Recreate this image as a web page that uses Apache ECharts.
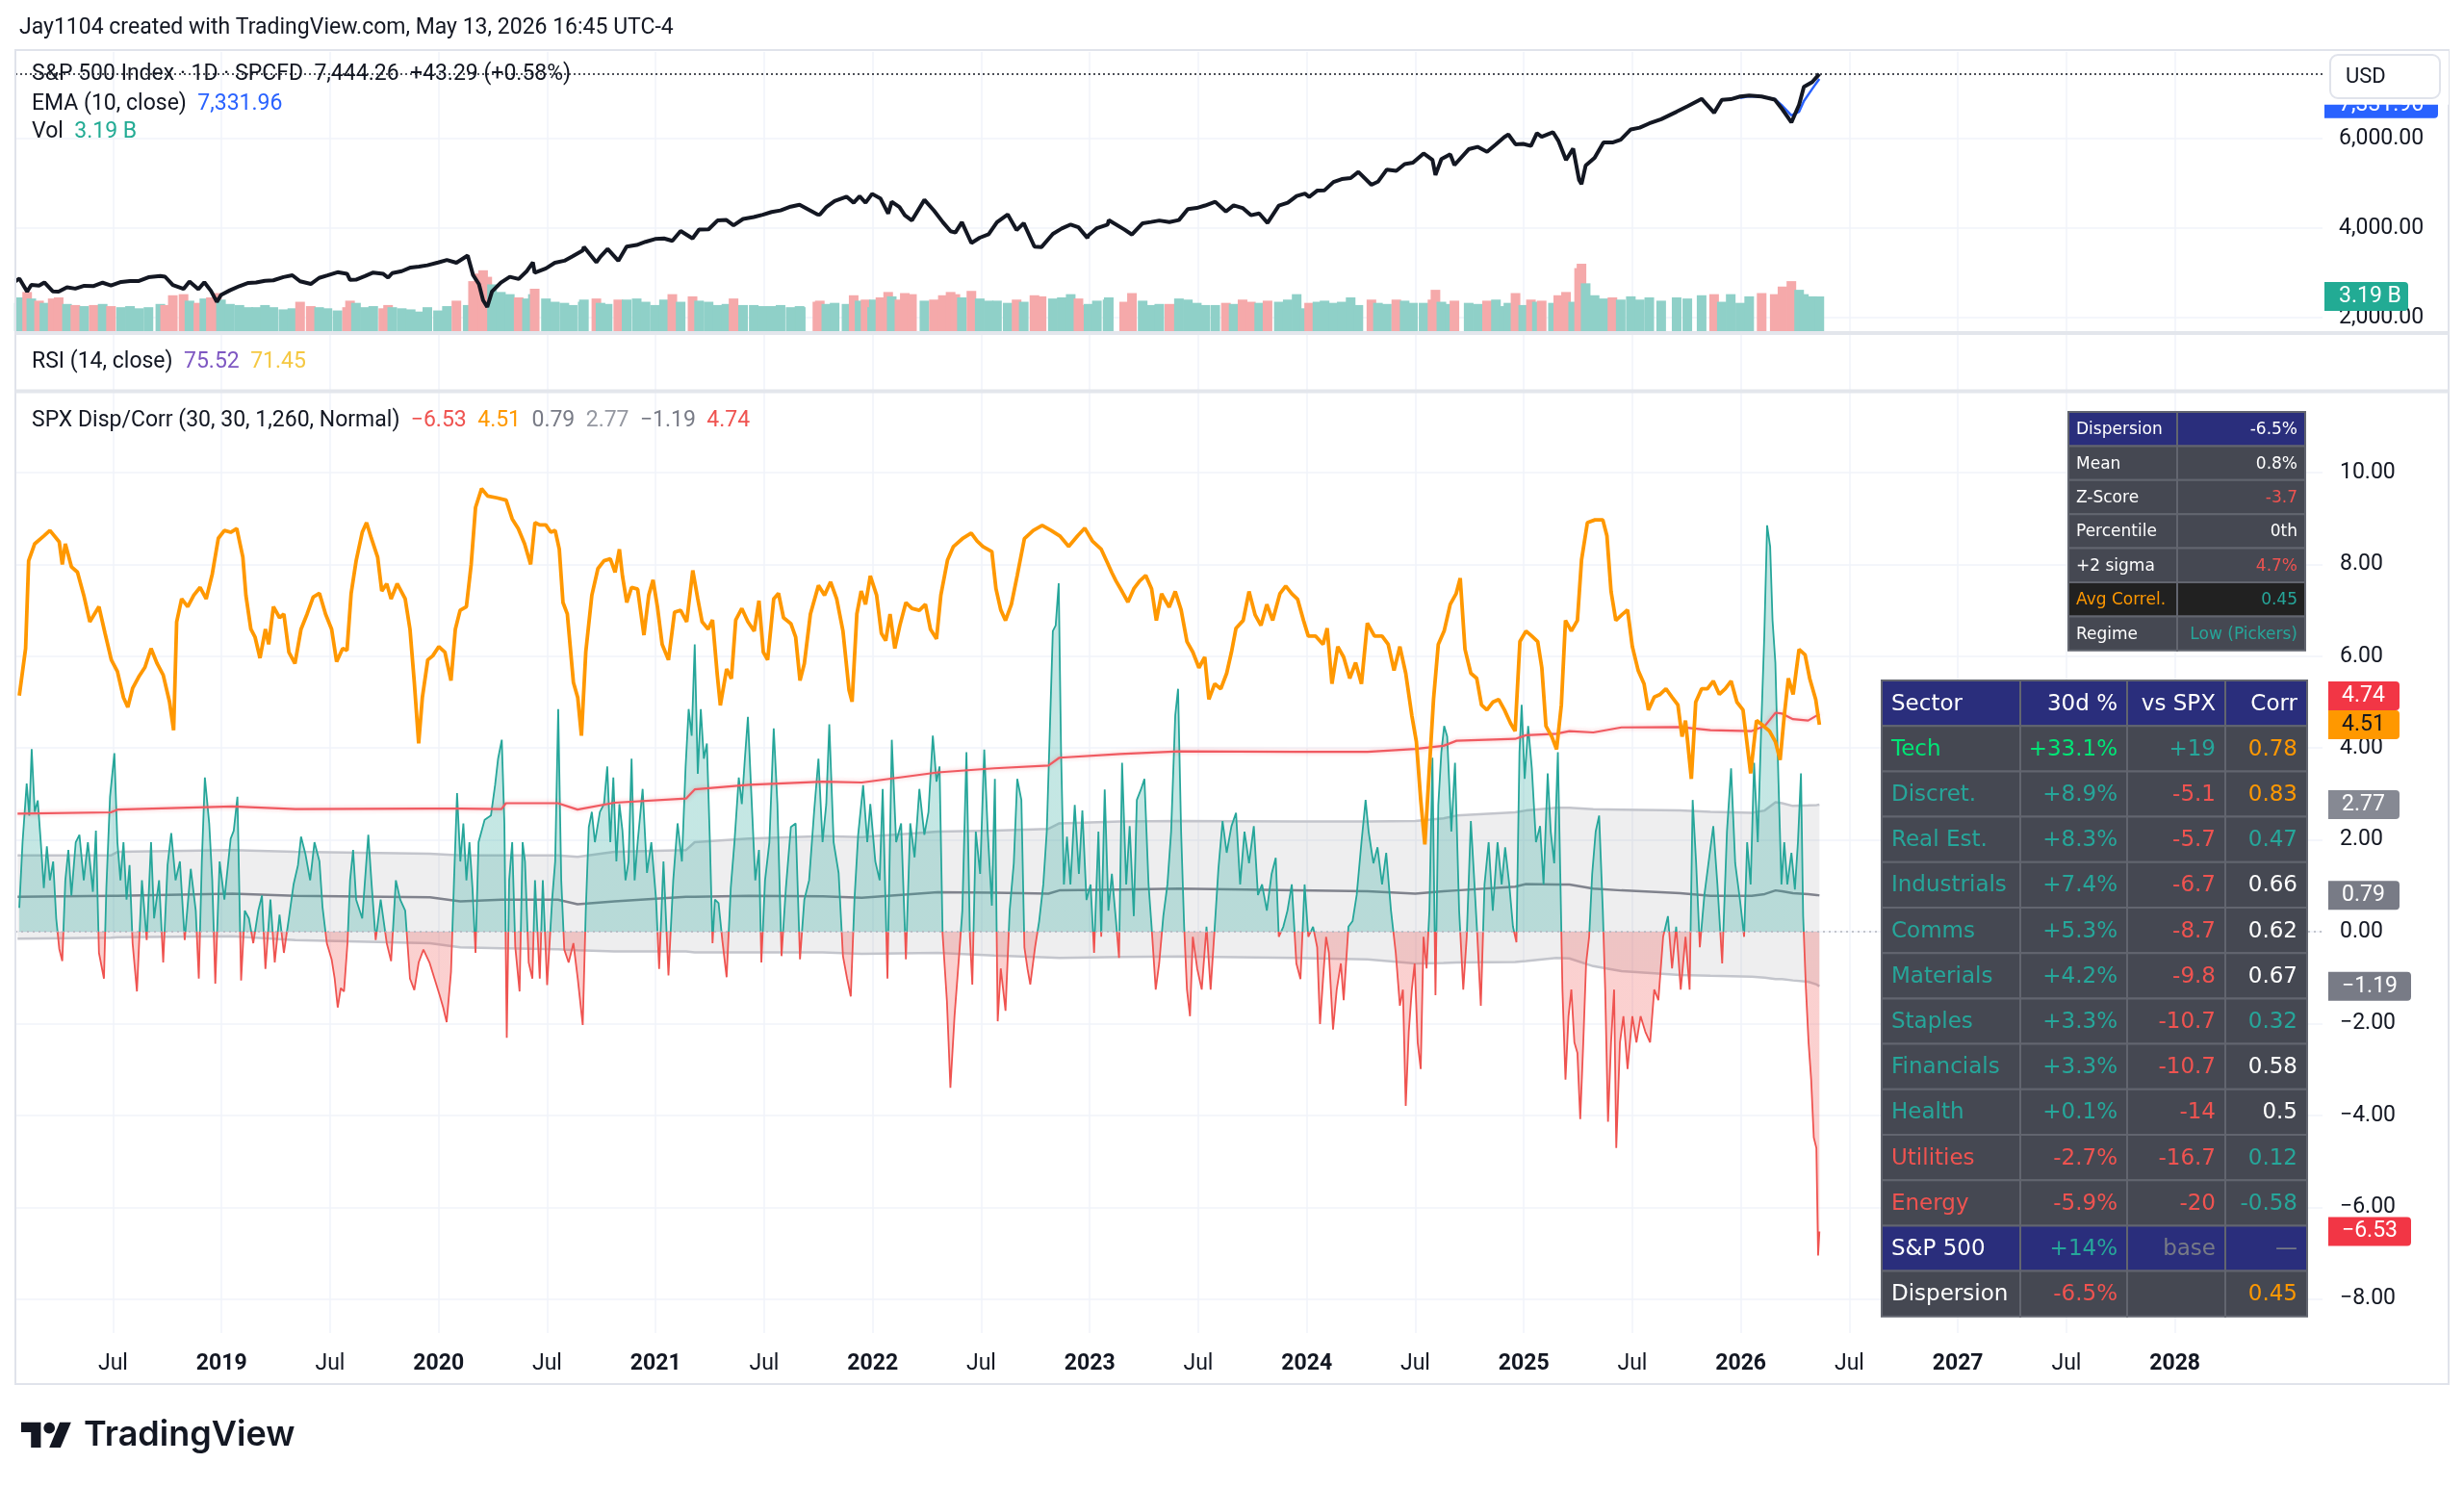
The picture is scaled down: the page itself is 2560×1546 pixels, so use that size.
<!DOCTYPE html>
<html>
<head>
<meta charset="utf-8">
<title>SPX Disp/Corr</title>
<script src="https://cdn.jsdelivr.net/npm/echarts@6.0.0/dist/echarts.min.js"></script>
<style>
html,body{margin:0;padding:0;background:#ffffff;}
#chart{width:2560px;height:1546px;}
</style>
</head>
<body>
<div id="chart"></div>
<script>
// ================= DATA =================
const headerText = 'Jay1104 created with TradingView.com, May 13, 2026 16:45 UTC-4';

const priceDates = [
'2018-01-19','2018-01-26','2018-02-08','2018-02-15','2018-02-28','2018-03-09','2018-03-23','2018-04-02','2018-04-16','2018-04-30','2018-05-15','2018-05-31','2018-06-15','2018-06-29','2018-07-16','2018-07-31','2018-08-15','2018-08-31','2018-09-20','2018-09-28','2018-10-11','2018-10-29','2018-11-08','2018-11-23','2018-12-03','2018-12-14','2018-12-24','2018-12-31',
'2019-01-15','2019-01-31','2019-02-15','2019-02-28','2019-03-15','2019-03-29','2019-04-15','2019-04-30','2019-05-13','2019-05-31','2019-06-14','2019-06-28','2019-07-15','2019-07-31','2019-08-05','2019-08-15','2019-08-30','2019-09-13','2019-09-30','2019-10-08','2019-10-15','2019-10-31','2019-11-15','2019-11-29','2019-12-13','2019-12-31',
'2020-01-15','2020-01-31','2020-02-19','2020-02-28','2020-03-09','2020-03-16','2020-03-23','2020-03-31','2020-04-15','2020-04-30','2020-05-15','2020-05-29','2020-06-08','2020-06-11','2020-06-30','2020-07-15','2020-07-31','2020-08-14','2020-08-31','2020-09-02','2020-09-23','2020-09-30','2020-10-12','2020-10-30','2020-11-13','2020-11-30','2020-12-15','2020-12-31',
'2021-01-15','2021-01-29','2021-02-12','2021-03-04','2021-03-15','2021-03-31','2021-04-15','2021-04-30','2021-05-12','2021-05-28','2021-06-15','2021-06-30','2021-07-15','2021-07-30','2021-08-16','2021-08-31','2021-09-02','2021-09-30','2021-10-04','2021-10-15','2021-10-29','2021-11-18','2021-11-30','2021-12-10','2021-12-20','2021-12-31',
'2022-01-03','2022-01-14','2022-01-27','2022-02-02','2022-02-15','2022-02-24','2022-03-08','2022-03-29','2022-04-14','2022-04-29','2022-05-12','2022-05-20','2022-05-31','2022-06-16','2022-06-30','2022-07-15','2022-07-29','2022-08-16','2022-08-31','2022-09-12','2022-09-30','2022-10-12','2022-10-31','2022-11-15','2022-11-30','2022-12-13','2022-12-28','2022-12-30',
'2023-01-13','2023-01-31','2023-02-02','2023-02-28','2023-03-13','2023-03-31','2023-04-14','2023-04-28','2023-05-15','2023-05-31','2023-06-15','2023-06-30','2023-07-14','2023-07-31','2023-08-18','2023-08-31','2023-09-15','2023-09-29','2023-10-13','2023-10-27','2023-11-15','2023-11-30','2023-12-15','2023-12-29',
'2024-01-05','2024-01-19','2024-01-31','2024-02-15','2024-02-29','2024-03-15','2024-03-28','2024-04-19','2024-04-30','2024-05-15','2024-05-31','2024-06-14','2024-06-28','2024-07-16','2024-07-31','2024-08-05','2024-08-15','2024-08-30','2024-09-06','2024-09-30','2024-10-15','2024-10-31','2024-11-15','2024-11-29','2024-12-06','2024-12-18','2024-12-31',
'2025-01-13','2025-01-23','2025-01-31','2025-02-19','2025-02-28','2025-03-13','2025-03-25','2025-04-04','2025-04-08','2025-04-15','2025-04-30','2025-05-15','2025-05-30','2025-06-13','2025-06-30','2025-07-15','2025-07-31','2025-08-20','2025-09-15','2025-10-03','2025-10-27','2025-11-17','2025-11-30','2025-12-15','2025-12-31',
'2026-01-15','2026-02-05','2026-02-27','2026-03-12','2026-03-27','2026-04-09','2026-04-17','2026-05-01','2026-05-13'
];
const priceVals = [
2810,2872,2581,2731,2714,2786,2588,2582,2678,2648,2711,2705,2780,2718,2798,2816,2818,2902,2930,2914,2728,2641,2806,2633,2790,2599,2351,2507,
2610,2704,2775,2784,2822,2834,2905,2946,2812,2752,2887,2942,3014,2980,2844,2847,2926,3007,2977,2893,2995,3038,3120,3141,3169,3231,
3289,3226,3386,2954,2747,2386,2237,2585,2783,2912,2864,3044,3232,3002,3100,3227,3271,3373,3500,3580,3237,3363,3534,3270,3585,3622,3694,3756,
3768,3714,3934,3768,3968,3973,4170,4181,4063,4204,4246,4297,4360,4395,4479,4523,4537,4308,4300,4471,4605,4704,4567,4712,4568,4766,
4796,4662,4326,4589,4471,4288,4170,4631,4392,4132,3930,3901,4132,3667,3785,3863,4130,4305,3955,4110,3586,3577,3872,3992,4080,4019,3783,3840,
3999,4077,4179,3970,3855,4109,4137,4169,4136,4180,4426,4450,4505,4589,4370,4508,4450,4288,4327,4117,4502,4568,4719,4770,
4697,4840,4846,5030,5096,5117,5254,4967,5036,5308,5278,5431,5460,5667,5522,5186,5543,5648,5408,5762,5815,5705,5870,6032,6090,5872,5882,
5836,6119,6040,6144,5955,5522,5777,5074,4982,5396,5569,5916,5912,5977,6205,6244,6339,6433,6600,6722,6888,6578,6866,6880,6940,
6960,6940,6870,6650,6361,6758,7155,7263,7444.26
];
const volVals = [
2.6,3.1,3.6,3.0,2.8,2.6,3.0,3.1,2.5,2.4,2.3,2.4,2.5,2.3,2.2,2.3,2.1,2.2,2.5,2.4,3.3,3.4,2.8,2.6,3.0,3.1,3.5,2.9,
2.5,2.4,2.2,2.2,2.4,2.2,2.0,2.1,2.7,2.3,2.2,2.1,1.9,2.2,2.8,2.6,2.2,2.3,2.1,2.4,2.2,2.1,2.0,1.8,2.2,1.9,
2.3,2.8,2.4,4.6,5.3,5.6,5.0,4.3,3.6,3.4,3.1,3.0,3.4,3.9,3.0,2.7,2.6,2.4,2.7,2.9,3.0,2.6,2.5,2.9,2.9,3.0,2.7,2.4,
2.9,3.4,2.7,3.2,2.8,2.7,2.4,2.5,3.0,2.4,2.4,2.3,2.3,2.4,2.2,2.3,2.2,2.7,2.8,2.5,2.6,2.5,3.3,2.8,2.9,2.2,
2.9,3.1,3.6,3.2,2.9,3.5,3.4,2.8,2.9,3.3,3.6,3.4,3.1,3.7,3.0,2.8,2.8,2.6,2.9,2.7,3.3,3.2,3.0,3.1,3.4,3.0,2.4,2.5,
2.8,2.9,3.1,2.7,3.5,2.8,2.4,2.5,2.5,3.0,2.9,2.6,2.4,2.4,2.6,2.5,2.9,2.7,2.6,2.8,2.7,2.9,3.4,2.1,
2.6,2.7,2.8,2.6,2.7,3.1,2.4,2.9,2.6,2.5,2.9,2.8,2.6,2.6,2.9,3.8,2.7,2.5,2.8,2.6,2.5,2.8,2.9,2.3,2.6,3.5,2.4,
2.9,2.7,2.8,2.6,3.3,3.6,2.7,5.8,6.2,4.4,3.3,3.0,3.1,2.9,3.2,2.9,3.1,2.8,3.1,3.0,3.3,3.4,2.7,3.4,2.6,
3.2,3.5,3.4,4.1,4.6,3.8,3.4,3.2,3.19
];
const emaDates = ['2025-12-31','2026-01-15','2026-02-05','2026-02-27','2026-03-12','2026-03-27','2026-04-09','2026-04-17','2026-05-01','2026-05-13'];
const emaVals = [6905,6945,6935,6880,6730,6520,6600,6840,7110,7331.96];

// Average-correlation line (orange), years as fractional calendar years
const corrYears = [
2018.068,2018.097,2018.111,2018.139,2018.181,2018.209,2018.252,2018.266,2018.280,2018.308,
2018.336,2018.365,2018.393,2018.435,2018.463,2018.492,2018.520,2018.548,2018.568,2018.590,
2018.618,2018.647,2018.675,2018.703,2018.731,2018.760,2018.779,2018.793,2018.816,2018.844,
2018.872,2018.901,2018.929,2018.957,2018.985,2019.013,2019.042,2019.070,2019.098,2019.112,
2019.135,2019.154,2019.177,2019.202,2019.217,2019.239,2019.267,2019.287,2019.310,2019.338,
2019.366,2019.394,2019.422,2019.451,2019.479,2019.507,2019.530,2019.558,2019.578,2019.597,
2019.620,2019.648,2019.668,2019.690,2019.719,2019.738,2019.761,2019.781,2019.809,2019.846,
2019.868,2019.888,2019.908,2019.925,2019.950,2019.973,2020.001,2020.029,2020.057,2020.077,
2020.099,2020.128,2020.150,2020.170,2020.198,2020.226,2020.269,2020.311,2020.339,2020.367,
2020.396,2020.424,2020.444,2020.466,2020.494,2020.517,2020.537,2020.556,2020.573,2020.593,
2020.621,2020.641,2020.658,2020.678,2020.706,2020.734,2020.762,2020.791,2020.813,2020.833,
2020.847,2020.867,2020.889,2020.917,2020.946,2020.968,2020.988,2021.008,2021.030,2021.059,
2021.087,2021.115,2021.143,2021.171,2021.194,2021.214,2021.242,2021.262,2021.284,2021.298,
2021.327,2021.349,2021.369,2021.397,2021.425,2021.454,2021.476,2021.496,2021.516,2021.544,
2021.566,2021.589,2021.623,2021.645,2021.665,2021.685,2021.713,2021.750,2021.778,2021.806,
2021.834,2021.863,2021.891,2021.905,2021.927,2021.947,2021.967,2021.989,2022.018,2022.040,
2022.060,2022.080,2022.102,2022.125,2022.153,2022.181,2022.215,2022.243,2022.266,2022.294,
2022.314,2022.345,2022.372,2022.413,2022.454,2022.481,2022.508,2022.549,2022.568,2022.590,
2022.612,2022.639,2022.666,2022.699,2022.740,2022.781,2022.822,2022.862,2022.903,2022.944,
2022.977,2023.012,2023.053,2023.080,2023.102,2023.121,2023.149,2023.176,2023.203,2023.230,
2023.258,2023.285,2023.307,2023.331,2023.366,2023.394,2023.421,2023.448,2023.475,2023.503,
2023.530,2023.549,2023.576,2023.604,2023.631,2023.653,2023.674,2023.707,2023.734,2023.762,
2023.789,2023.816,2023.843,2023.876,2023.903,2023.931,2023.958,2023.985,2024.007,2024.040,
2024.075,2024.094,2024.116,2024.143,2024.170,2024.198,2024.225,2024.252,2024.279,2024.312,
2024.347,2024.375,2024.402,2024.429,2024.456,2024.484,2024.505,2024.525,2024.544,2024.565,
2024.584,2024.606,2024.633,2024.661,2024.688,2024.707,2024.729,2024.756,2024.783,2024.805,
2024.830,2024.857,2024.884,2024.911,2024.939,2024.960,2024.982,2025.010,2025.037,2025.064,
2025.083,2025.102,2025.129,2025.151,2025.173,2025.192,2025.219,2025.247,2025.266,2025.293,
2025.328,2025.364,2025.383,2025.402,2025.424,2025.451,2025.478,2025.500,2025.527,2025.554,
2025.574,2025.601,2025.628,2025.655,2025.683,2025.710,2025.729,2025.745,2025.772,2025.792,
2025.819,2025.846,2025.873,2025.901,2025.928,2025.955,2025.982,2026.010,2026.045,2026.072,
2026.105,2026.132,2026.159,2026.181,2026.200,2026.219,2026.241,2026.268,2026.296,2026.317,
2026.345,2026.362
];
const corrVals = [
5.14,6.17,8.08,8.45,8.62,8.74,8.49,8.00,8.45,7.95,
7.83,7.33,6.75,7.08,6.50,5.92,5.67,5.10,4.89,5.30,
5.55,5.76,6.17,5.84,5.59,5.01,4.39,6.75,7.25,7.08,
7.33,7.50,7.25,7.79,8.57,8.74,8.70,8.78,8.16,7.33,
6.59,6.42,5.96,6.59,6.26,7.08,6.84,6.92,6.09,5.84,
6.59,6.92,7.29,7.37,6.92,6.59,5.88,6.17,6.13,7.37,
8.08,8.70,8.91,8.57,8.16,7.42,7.58,7.25,7.58,7.25,
6.59,5.43,4.10,5.10,5.92,6.01,6.21,6.09,5.47,6.59,
7.00,7.08,8.00,9.24,9.65,9.49,9.45,9.40,8.99,8.78,
8.45,8.00,8.91,8.86,8.86,8.70,8.74,8.33,7.17,6.92,
5.43,5.10,4.27,6.09,7.33,7.91,8.08,8.12,7.83,8.33,
7.75,7.17,7.50,7.46,6.46,7.33,7.66,7.08,6.26,5.92,
6.96,7.00,6.75,7.87,7.25,6.75,6.59,6.79,5.59,4.93,
5.72,5.51,6.79,7.04,6.75,6.55,7.21,6.09,5.92,7.25,
7.37,6.84,6.71,6.42,5.47,5.84,6.92,7.54,7.33,7.62,
7.25,6.55,5.26,5.01,6.92,7.42,7.13,7.75,7.33,6.50,
6.34,6.92,6.17,6.67,7.17,7.04,7.00,7.13,6.59,6.38,
7.33,8.10,8.39,8.56,8.68,8.51,8.39,8.28,7.47,7.01,
6.78,7.13,7.76,8.56,8.74,8.85,8.74,8.62,8.39,8.62,
8.79,8.51,8.33,8.05,7.82,7.64,7.41,7.18,7.47,7.64,
7.76,7.47,6.78,7.36,7.07,7.41,7.01,6.32,6.09,5.75,
5.98,5.06,5.40,5.29,5.63,6.09,6.61,6.78,7.41,6.90,
6.67,7.13,6.78,7.36,7.53,7.36,7.24,6.78,6.44,6.44,
6.26,6.61,5.40,6.21,5.98,5.52,5.86,5.40,6.72,6.44,
6.44,6.26,5.69,6.21,5.63,4.71,4.14,2.87,1.90,3.56,
5.06,6.26,6.55,7.13,7.36,7.70,6.15,5.63,5.52,4.94,
4.83,5.00,5.06,4.83,4.54,4.37,6.32,6.55,6.44,6.32,
5.75,4.48,4.25,3.97,4.94,6.78,6.55,6.78,8.10,8.91,
8.97,8.97,8.62,7.41,6.78,6.90,7.01,6.21,5.69,5.40,
4.83,5.11,5.17,5.29,5.11,4.94,4.25,4.60,3.33,5.00,
5.29,5.29,5.46,5.17,5.29,5.46,5.00,4.83,3.45,4.60,
4.48,4.37,4.14,3.74,4.71,5.52,5.17,6.15,6.03,5.52,
5.06,4.51
];

// Dispersion line (teal above zero, red below)
const dispYears = [
2018.068,2018.083,2018.102,2018.114,2018.125,2018.139,2018.153,2018.167,2018.181,2018.195,
2018.209,2018.224,2018.238,2018.252,2018.266,2018.280,2018.294,2018.308,2018.328,2018.345,
2018.365,2018.384,2018.407,2018.421,2018.435,2018.458,2018.469,2018.486,2018.506,2018.520,
2018.534,2018.548,2018.562,2018.576,2018.590,2018.610,2018.633,2018.655,2018.675,2018.689,
2018.712,2018.731,2018.751,2018.768,2018.788,2018.808,2018.830,2018.858,2018.881,2018.895,
2018.909,2018.923,2018.943,2018.957,2018.971,2018.991,2019.013,2019.042,2019.056,2019.073,
2019.090,2019.107,2019.126,2019.146,2019.169,2019.186,2019.202,2019.225,2019.245,2019.267,
2019.287,2019.310,2019.332,2019.352,2019.366,2019.386,2019.408,2019.428,2019.451,2019.465,
2019.485,2019.507,2019.521,2019.535,2019.549,2019.564,2019.580,2019.592,2019.606,2019.620,
2019.648,2019.676,2019.690,2019.710,2019.733,2019.761,2019.781,2019.803,2019.823,2019.846,
2019.868,2019.888,2019.908,2019.930,2019.958,2019.981,2020.004,2020.021,2020.037,2020.057,
2020.071,2020.085,2020.100,2020.114,2020.128,2020.142,2020.156,2020.170,2020.184,2020.212,
2020.241,2020.260,2020.274,2020.291,2020.303,2020.314,2020.325,2020.339,2020.353,2020.373,
2020.387,2020.398,2020.415,2020.432,2020.444,2020.466,2020.480,2020.500,2020.523,2020.537,
2020.551,2020.565,2020.579,2020.599,2020.621,2020.641,2020.664,2020.678,2020.692,2020.706,
2020.720,2020.743,2020.762,2020.777,2020.791,2020.805,2020.819,2020.833,2020.847,2020.861,
2020.875,2020.889,2020.903,2020.917,2020.940,2020.960,2020.980,2021.002,2021.016,2021.036,
2021.059,2021.081,2021.101,2021.121,2021.138,2021.152,2021.166,2021.180,2021.194,2021.208,
2021.222,2021.236,2021.250,2021.262,2021.273,2021.290,2021.307,2021.327,2021.346,2021.363,
2021.383,2021.397,2021.411,2021.425,2021.439,2021.459,2021.476,2021.487,2021.504,2021.524,
2021.544,2021.561,2021.580,2021.600,2021.623,2021.645,2021.665,2021.685,2021.707,2021.730,
2021.750,2021.769,2021.786,2021.800,2021.820,2021.843,2021.863,2021.882,2021.899,2021.916,
2021.933,2021.956,2021.975,2021.989,2022.012,2022.032,2022.046,2022.068,2022.088,2022.108,
2022.131,2022.153,2022.173,2022.193,2022.215,2022.238,2022.257,2022.277,2022.294,2022.308,
2022.322,2022.342,2022.358,2022.377,2022.399,2022.413,2022.432,2022.448,2022.459,2022.475,
2022.495,2022.514,2022.530,2022.549,2022.563,2022.576,2022.590,2022.612,2022.631,2022.650,
2022.666,2022.685,2022.699,2022.713,2022.726,2022.748,2022.767,2022.786,2022.802,2022.816,
2022.830,2022.843,2022.857,2022.868,2022.881,2022.895,2022.911,2022.931,2022.950,2022.966,
2022.985,2023.004,2023.020,2023.040,2023.053,2023.069,2023.086,2023.102,2023.121,2023.135,
2023.149,2023.168,2023.184,2023.203,2023.217,2023.236,2023.252,2023.271,2023.285,2023.304,
2023.320,2023.339,2023.358,2023.375,2023.394,2023.407,2023.421,2023.435,2023.448,2023.462,
2023.475,2023.495,2023.516,2023.538,2023.557,2023.576,2023.593,2023.612,2023.631,2023.653,
2023.674,2023.693,2023.713,2023.734,2023.756,2023.775,2023.794,2023.816,2023.838,2023.857,
2023.871,2023.892,2023.911,2023.931,2023.952,2023.971,2023.990,2024.007,2024.029,2024.048,
2024.061,2024.075,2024.089,2024.102,2024.121,2024.138,2024.157,2024.170,2024.192,2024.211,
2024.230,2024.252,2024.271,2024.285,2024.307,2024.326,2024.347,2024.366,2024.388,2024.410,
2024.429,2024.443,2024.456,2024.470,2024.484,2024.497,2024.511,2024.525,2024.538,2024.552,
2024.565,2024.579,2024.593,2024.606,2024.620,2024.633,2024.647,2024.666,2024.683,2024.702,
2024.721,2024.737,2024.756,2024.770,2024.786,2024.802,2024.819,2024.838,2024.857,2024.879,
2024.898,2024.914,2024.933,2024.950,2024.966,2024.980,2024.990,2025.004,2025.020,2025.037,
2025.056,2025.075,2025.091,2025.110,2025.124,2025.140,2025.157,2025.168,2025.178,2025.192,
2025.206,2025.219,2025.233,2025.247,2025.260,2025.274,2025.287,2025.301,2025.315,2025.331,
2025.347,2025.364,2025.375,2025.388,2025.402,2025.416,2025.426,2025.443,2025.459,2025.478,
2025.500,2025.519,2025.538,2025.560,2025.582,2025.601,2025.620,2025.642,2025.664,2025.683,
2025.702,2025.723,2025.745,2025.764,2025.778,2025.794,2025.811,2025.832,2025.854,2025.873,
2025.892,2025.914,2025.936,2025.955,2025.974,2025.996,2026.015,2026.029,2026.045,2026.061,
2026.078,2026.094,2026.108,2026.121,2026.135,2026.146,2026.159,2026.173,2026.187,2026.200,
2026.214,2026.233,2026.249,2026.263,2026.277,2026.287,2026.300,2026.312,2026.324,2026.336,
2026.348,2026.356,2026.362
];
const dispVals = [
0.52,1.95,3.23,2.53,3.98,2.61,2.86,1.95,0.95,1.86,
1.12,1.53,0.29,-0.37,-0.64,1.12,1.78,0.79,1.95,2.11,
1.12,1.95,0.87,2.20,-0.46,-1.02,0.95,2.94,3.89,1.95,
1.12,1.95,0.70,1.45,-0.25,-1.30,1.12,-0.18,1.95,0.29,
1.12,-0.67,1.45,2.15,1.12,1.53,-0.18,1.37,0.46,-1.02,
1.53,3.36,2.36,1.12,-1.13,1.53,0.70,2.03,2.20,2.94,
-1.06,0.46,0.29,-0.25,0.46,0.79,-0.81,0.70,-0.67,0.37,
-0.46,0.29,1.04,1.45,2.07,1.70,1.12,1.95,1.53,0.54,
-0.25,-0.60,-1.02,-1.65,-1.23,-1.30,-0.25,1.12,1.78,0.70,
0.29,2.11,1.12,-0.18,0.70,-0.25,-0.64,1.12,0.70,0.46,
-1.02,-1.27,-0.67,-0.39,-0.67,-1.02,-1.37,-1.65,-1.97,-0.88,
1.12,3.02,1.53,2.36,1.12,1.95,0.95,-0.46,1.95,2.44,
2.53,3.19,3.77,4.18,2.36,-2.31,1.12,1.95,-0.32,-1.30,
1.95,1.53,-0.67,-1.02,1.12,-1.02,1.12,-1.16,0.70,1.53,
4.85,1.12,-0.39,-0.67,-0.25,-1.02,-2.03,0.46,2.28,2.61,
1.95,2.61,2.78,3.60,1.95,3.36,1.53,2.78,2.20,1.12,
1.53,3.77,1.12,1.95,3.11,1.28,1.95,0.70,-0.81,1.53,
-0.95,1.12,2.36,1.53,3.60,4.85,4.27,6.26,3.44,4.85,
3.77,4.10,1.95,-0.25,0.70,0.62,-0.18,-0.99,0.95,1.95,
3.36,2.78,3.77,4.68,3.19,1.12,1.78,-0.67,1.12,1.95,
4.43,2.78,-0.53,0.95,2.28,2.36,-0.60,0.70,1.12,2.61,
3.77,1.95,2.78,4.52,1.95,1.28,-0.53,-1.02,-1.41,0.70,
2.11,3.19,1.95,2.78,1.53,1.12,3.11,-1.02,4.18,1.95,
2.36,-0.60,2.36,1.62,3.11,2.11,2.61,4.27,3.27,3.60,
-0.04,-1.51,-3.40,-1.84,-0.46,0.46,3.91,-0.11,-1.15,2.18,
1.26,3.97,2.18,0.57,3.33,-1.95,-0.80,-1.72,0.46,1.49,
3.33,2.87,-0.34,-0.80,-1.15,-0.34,0.23,1.03,2.18,4.37,
6.55,6.67,7.59,3.91,1.03,2.07,1.03,2.76,1.26,2.64,
0.69,1.03,-0.46,2.18,-0.11,3.10,0.46,1.26,0.23,-0.57,
3.68,1.03,2.30,0.34,2.87,3.10,3.33,1.03,0.11,-1.26,
-0.69,0.34,1.03,2.18,4.71,5.29,2.18,0.11,-1.26,-1.84,
-0.11,-0.80,-1.26,0.11,-1.26,0.11,1.38,2.41,1.72,2.30,
2.59,1.03,2.18,1.49,2.30,0.80,1.03,0.46,1.26,1.61,
-0.11,0.11,0.46,1.03,-0.69,-1.03,1.03,-0.11,0.11,-0.34,
-2.01,-1.03,-0.11,-0.46,-2.13,-1.26,-0.69,-1.49,0.11,0.23,
0.80,1.95,2.87,2.18,1.49,1.84,1.03,1.72,0.46,-0.46,
-1.61,-1.26,-3.79,-2.18,-1.26,-0.69,-2.41,-2.99,-0.11,-0.80,
0.46,3.79,-1.38,2.76,3.91,4.48,4.25,2.18,3.68,0.46,
-1.26,-0.11,2.41,1.26,-0.11,-1.61,1.03,1.95,0.46,1.95,
1.03,1.84,1.03,0.11,-0.23,3.91,4.94,3.33,4.48,3.56,
1.95,2.30,1.03,3.45,2.18,1.49,3.91,1.26,-1.26,-3.22,
-1.84,-1.26,-2.41,-2.64,-4.08,-2.41,-0.69,-0.11,1.26,2.18,
2.53,0.46,-1.26,-4.14,-2.41,-1.26,-4.71,-2.41,-1.84,-2.99,
-1.84,-2.41,-1.84,-2.18,-2.41,-1.26,-1.49,-0.11,0.34,-0.80,
0.11,-1.26,-0.11,-1.26,2.87,1.49,-0.34,0.80,1.61,2.30,
1.03,-0.69,2.18,3.56,1.49,0.69,-0.11,1.95,1.03,3.68,
1.95,4.48,6.44,8.85,8.39,6.78,5.86,3.33,1.03,1.95,
1.03,1.72,0.92,1.95,3.45,0.34,-1.26,-2.41,-3.22,-4.48,
-4.71,-7.05,-6.53
];

// Slow lines: +2 sigma (red), band upper/lower (gray), mean (dark gray)
const bandYears = [2018.06,2018.49,2018.52,2019.05,2019.34,2019.96,2020.10,2020.29,2020.31,2020.55,2020.64,2020.81,2021.14,2021.18,2021.43,2021.77,2021.95,2022.30,2022.56,2022.81,2022.86,2023.14,2023.41,2023.95,2024.28,2024.50,2024.63,2024.69,2024.96,2025.01,2025.15,2025.21,2025.32,2025.45,2025.72,2025.86,2026.05,2026.11,2026.16,2026.19,2026.24,2026.31,2026.35,2026.362];
const sigmaVals = [2.57,2.60,2.66,2.73,2.67,2.68,2.68,2.67,2.80,2.80,2.66,2.81,2.90,3.10,3.20,3.27,3.25,3.47,3.56,3.62,3.79,3.87,3.93,3.92,3.92,3.98,4.05,4.16,4.20,4.28,4.31,4.37,4.34,4.45,4.46,4.39,4.37,4.48,4.77,4.75,4.63,4.60,4.71,4.74];
const upperVals = [1.66,1.66,1.74,1.78,1.74,1.70,1.66,1.66,1.66,1.66,1.63,1.74,1.78,1.95,2.03,2.08,2.06,2.18,2.20,2.24,2.36,2.40,2.41,2.40,2.40,2.41,2.47,2.53,2.60,2.64,2.70,2.70,2.67,2.66,2.64,2.61,2.59,2.64,2.82,2.80,2.74,2.75,2.76,2.77];
const meanVals = [0.76,0.78,0.78,0.83,0.78,0.75,0.66,0.70,0.70,0.70,0.60,0.66,0.76,0.76,0.78,0.77,0.74,0.86,0.85,0.83,0.90,0.92,0.94,0.90,0.88,0.83,0.88,0.90,0.98,1.04,1.03,1.03,0.94,0.90,0.84,0.78,0.78,0.82,0.90,0.88,0.84,0.82,0.80,0.79];
const lowerVals = [-0.15,-0.13,-0.12,-0.10,-0.18,-0.25,-0.34,-0.36,-0.36,-0.38,-0.40,-0.43,-0.43,-0.45,-0.45,-0.45,-0.48,-0.46,-0.52,-0.56,-0.57,-0.55,-0.54,-0.57,-0.60,-0.69,-0.68,-0.67,-0.66,-0.64,-0.57,-0.58,-0.75,-0.86,-0.94,-0.96,-0.98,-1.00,-1.03,-1.03,-1.06,-1.09,-1.15,-1.19];

// Axis ticks
const xTickYears = [2018.5,2019,2019.5,2020,2020.5,2021,2021.5,2022,2022.5,2023,2023.5,2024,2024.5,2025,2025.5,2026,2026.5,2027,2027.5,2028];
const priceTicks = [2000,4000,6000];
const dispTicks = [-8,-6,-4,-2,0,2,4,6,8,10];

// Latest values
const lastPrice = 7444.26, priceChange = 43.29, priceChangePct = 0.58;
const lastEma = 7331.96, lastVol = 3.19;
const rsiVal = 75.52, rsiMa = 71.45;
const lastDisp = -6.53, lastCorr = 4.51, lastMean = 0.79, lastUpper = 2.77, lastLower = -1.19, lastSigma = 4.74;

// Sector table
const tableHeader = ['Sector','30d %','vs SPX','Corr'];
const sectors = ['Tech','Discret.','Real Est.','Industrials','Comms','Materials','Staples','Financials','Health','Utilities','Energy'];
const ret30 = [33.1,8.9,8.3,7.4,5.3,4.2,3.3,3.3,0.1,-2.7,-5.9];
const vsSpx = [19,-5.1,-5.7,-6.7,-8.7,-9.8,-10.7,-10.7,-14,-16.7,-20];
const sectorCorr = [0.78,0.83,0.47,0.66,0.62,0.67,0.32,0.58,0.5,0.12,-0.58];
const spxRet30 = 14;
const dispersionNow = -6.5;
const avgCorrel = 0.45;

// Stats table
const statLabels = ['Dispersion','Mean','Z-Score','Percentile','+2 sigma','Avg Correl.','Regime'];
const statValues = ['-6.5%','0.8%','-3.7','0th','4.7%','0.45','Low (Pickers)'];

// ================= STYLE =================
const FONT = 'Roboto, "Noto Sans", "DejaVu Sans", sans-serif';
const TFONT = '"DejaVu Sans", Verdana, sans-serif';
const LOGOFONT = 'Inter, Roboto, sans-serif';
const INK = '#131722';
const TEAL = '#26A69A', RED = '#EF5350', ORANGE = '#FF9800', GREEN = '#00E676';
const WHITE = '#FFFFFF', MUTED = '#787B86';
const NAVY = '#2A2E7C', GRAY = '#454852', DARK = '#212121', BORDER = '#62656F';
const GRID = '#F0F3FA';
const VOL_UP = '#8FD0C8', VOL_DN = '#F5A9AA';
const X_MIN = 2018.05, X_MAX = 2028.68;
const statRowBg = [NAVY, GRAY, GRAY, GRAY, GRAY, DARK, GRAY];
const statLabelColor = [WHITE, WHITE, WHITE, WHITE, WHITE, ORANGE, WHITE];
const statValueColor = [WHITE, WHITE, RED, WHITE, RED, TEAL, TEAL];

// ================= HELPERS =================
function toYear(s){
  const p = s.split('-').map(Number);
  const a = Date.UTC(p[0],0,1), b = Date.UTC(p[0]+1,0,1);
  return p[0] + (Date.UTC(p[0],p[1]-1,p[2]) - a) / (b - a);
}
function zip(xs, ys){ const n = Math.min(xs.length, ys.length); const out = []; for (let i=0;i<n;i++) out.push([xs[i], ys[i]]); return out; }
function fmtPrice(v){ return v.toLocaleString('en-US',{minimumFractionDigits:2, maximumFractionDigits:2}); }
function fmtSigned(v){ return (v < 0 ? '\u2212' : '') + Math.abs(v).toFixed(2); }

const priceData = zip(priceDates.map(toYear), priceVals);
const emaData = zip(emaDates.map(toYear), emaVals);
const volData = priceDates.map(function(d, i){
  const up = i === 0 || priceVals[i] >= priceVals[i-1];
  return {value:[toYear(d), volVals[i]], itemStyle:{color: up ? VOL_UP : VOL_DN}};
});
const corrData = zip(corrYears, corrVals);
const dispData = zip(dispYears, dispVals);
const sigmaData = zip(bandYears, sigmaVals);
const upperData = zip(bandYears, upperVals);
const lowerData = zip(bandYears, lowerVals);
const meanData = zip(bandYears, meanVals);

function xAx(i, showLabel){
  return {
    type:'value', gridIndex:i, min:X_MIN, max:X_MAX,
    axisLine:{show:false},
    axisTick:{show:false, customValues:xTickYears},
    splitLine:{show:true, lineStyle:{color:GRID, width:1.5}},
    axisLabel:{
      show:showLabel, customValues:xTickYears, margin:21,
      color:INK, fontSize:23, fontFamily:FONT,
      formatter:function(v){ const r = Math.round(v); return Math.abs(v-r) < 1e-6 ? '{b|' + r + '}' : 'Jul'; },
      rich:{b:{fontWeight:'bold', fontSize:23, fontFamily:FONT, color:INK}}
    }
  };
}

const option = {
  animation:false,
  backgroundColor:'#ffffff',
  textStyle:{fontFamily:FONT},
  grid:[
    {left:16, top:54, width:2397, height:290, containLabel:false, outerBoundsMode:'none'},
    {left:16, top:348, width:2397, height:57, containLabel:false, outerBoundsMode:'none'},
    {left:16, top:408, width:2397, height:977, containLabel:false, outerBoundsMode:'none'}
  ],
  xAxis:[xAx(0,false), xAx(1,false), xAx(2,true)],
  yAxis:[
    {type:'value', gridIndex:0, position:'right', min:1699, max:7935,
      axisLine:{show:false}, axisTick:{show:false, customValues:priceTicks},
      splitLine:{show:true, lineStyle:{color:GRID, width:1.5}},
      axisLabel:{customValues:priceTicks, margin:17, color:INK, fontSize:23, fontFamily:FONT, formatter:fmtPrice}},
    {type:'value', gridIndex:0, min:0, max:25.7, show:false},
    {type:'value', gridIndex:1, min:0, max:100, show:false},
    {type:'value', gridIndex:2, position:'right', min:-8.74, max:11.74,
      axisLine:{show:false}, axisTick:{show:false, customValues:dispTicks},
      splitLine:{show:true, lineStyle:{color:GRID, width:1.5}},
      axisLabel:{customValues:dispTicks, margin:18, color:INK, fontSize:23, fontFamily:FONT, formatter:fmtSigned}}
  ],
  series:[
    {type:'bar', name:'Vol', xAxisIndex:0, yAxisIndex:1, data:volData, barWidth:10, z:1, silent:true},
    {type:'line', name:'EMA', xAxisIndex:0, yAxisIndex:0, data:emaData, symbol:'none', z:3,
      lineStyle:{color:'#2962FF', width:2.5}, silent:true},
    {type:'line', name:'SPX', xAxisIndex:0, yAxisIndex:0, data:priceData, symbol:'none', z:4,
      lineStyle:{color:INK, width:4}, silent:true,
      markLine:{silent:true, symbol:['none','none'], label:{show:false},
        lineStyle:{color:INK, type:[2,3], width:1.5}, data:[{yAxis:lastPrice}]}},
    {type:'custom', name:'Band', xAxisIndex:2, yAxisIndex:3, z:1, silent:true, clip:true,
      data:[[bandYears[0], upperVals[0]]],
      renderItem:function(params, api){
        if (params.dataIndex !== 0) return null;
        const pts = [];
        for (let i=0;i<bandYears.length;i++) pts.push(api.coord([bandYears[i], upperVals[i]]));
        for (let i=bandYears.length-1;i>=0;i--) pts.push(api.coord([bandYears[i], lowerVals[i]]));
        return {type:'polygon', shape:{points:pts}, style:{fill:'rgba(120,123,134,0.13)'}};
      }},
    {type:'line', name:'Upper', xAxisIndex:2, yAxisIndex:3, data:upperData, symbol:'none', z:2,
      lineStyle:{color:'#C3C5CC', width:2.5}, silent:true},
    {type:'line', name:'Lower', xAxisIndex:2, yAxisIndex:3, data:lowerData, symbol:'none', z:2,
      lineStyle:{color:'#C3C5CC', width:2.5}, silent:true},
    {type:'line', name:'Mean', xAxisIndex:2, yAxisIndex:3, data:meanData, symbol:'none', z:3,
      lineStyle:{color:'#80838D', width:2.5}, silent:true,
      markLine:{silent:true, symbol:['none','none'], label:{show:false},
        lineStyle:{color:'#B2B5BE', type:[2,4], width:1.5}, data:[{yAxis:0}]}},
    {type:'line', id:'disp', name:'Dispersion', xAxisIndex:2, yAxisIndex:3, data:dispData, symbol:'none', z:4,
      lineStyle:{width:1.8, color:TEAL}, areaStyle:{opacity:1, color:'rgba(38,166,154,0.27)'}, silent:true},
    {type:'line', name:'+2 sigma', xAxisIndex:2, yAxisIndex:3, data:sigmaData, symbol:'none', z:5,
      lineStyle:{color:'#F05A61', width:2.2, shadowColor:'rgba(242,54,69,0.35)', shadowBlur:4}, silent:true},
    {type:'line', name:'Avg Correl', xAxisIndex:2, yAxisIndex:3, data:corrData, symbol:'none', z:6,
      lineStyle:{color:ORANGE, width:3.8}, silent:true}
  ]
};

const chart = echarts.init(document.getElementById('chart'), null, {renderer:'canvas', width:2560, height:1546});
chart.setOption(option);

// Colour the dispersion line/area by sign using the axis' own zero position
(function(){
  const yTop = chart.convertToPixel({yAxisIndex:3}, 11.74);
  const yBot = chart.convertToPixel({yAxisIndex:3}, -8.74);
  const y0 = chart.convertToPixel({yAxisIndex:3}, 0);
  const f = (y0 - yTop) / (yBot - yTop);
  const mk = function(a, b){
    return new echarts.graphic.LinearGradient(0, yTop, 0, yBot, [
      {offset:0, color:a},{offset:f, color:a},{offset:f, color:b},{offset:1, color:b}], true);
  };
  chart.setOption({series:[{id:'disp',
    lineStyle:{color:mk(TEAL, RED)},
    areaStyle:{opacity:1, color:mk('rgba(38,166,154,0.27)', 'rgba(239,83,80,0.27)')}}]});
})();

// ================= ANNOTATIONS (graphic) =================
const G = [];
function txt(x, y, text, st, z){
  G.push({type:'text', x:x, y:y, z:z || 100, silent:true,
    style:Object.assign({text:text, fill:INK, fontSize:23, fontFamily:FONT,
      align:'left', verticalAlign:'middle', textAlign:'left', textVerticalAlign:'middle'}, st || {})});
}
function rich(x, y, text, richMap, size){
  const r = {};
  Object.keys(richMap).forEach(function(k){ r[k] = {fill:richMap[k], color:richMap[k], fontSize:size, fontFamily:FONT}; });
  G.push({type:'text', x:x, y:y, z:100, silent:true,
    style:{text:text, rich:r, fill:INK, fontSize:size, fontFamily:FONT, align:'left', verticalAlign:'middle', textAlign:'left', textVerticalAlign:'middle'}});
}
function box(x, y, w, h, fill, z, extra){
  G.push({type:'rect', z:z || 90, silent:true, shape:Object.assign({x:x, y:y, width:w, height:h}, extra && extra.r ? {r:extra.r} : {}),
    style:Object.assign({fill:fill}, extra && extra.stroke ? {stroke:extra.stroke, lineWidth:extra.lw || 2} : {})});
}
function hline(x1, x2, y, color, w, z){
  G.push({type:'line', z:z || 60, silent:true, shape:{x1:x1, y1:y, x2:x2, y2:y}, style:{stroke:color, lineWidth:w}});
}

// Frame and pane separators
G.push({type:'rect', z:60, silent:true, shape:{x:16, y:52, width:2528, height:1386}, style:{fill:'none', stroke:'#E0E3EB', lineWidth:2}});
hline(16, 2544, 346, '#E3E6EC', 4);
hline(16, 2544, 406.5, '#E3E6EC', 4);

// Header
txt(20, 29, headerText, {fontSize:23});

// Pane legends
const LS = 23;
rich(33, 77, '{a|S&P 500 Index \u00B7 1D \u00B7 SPCFD}  {a|' + fmtPrice(lastPrice) + '}  {a|+' + priceChange.toFixed(2) + ' (+' + priceChangePct.toFixed(2) + '%)}', {a:INK}, LS);
rich(33, 108, '{a|EMA (10, close)}  {e|' + fmtPrice(lastEma) + '}', {a:INK, e:'#2962FF'}, LS);
rich(33, 137, '{a|Vol}  {v|' + lastVol.toFixed(2) + ' B}', {a:INK, v:'#22AB94'}, LS);
rich(33, 376, '{a|RSI (14, close)}  {p|' + rsiVal.toFixed(2) + '}  {y|' + rsiMa.toFixed(2) + '}', {a:INK, p:'#7E57C2', y:'#F5C842'}, LS);
rich(33, 437, '{a|SPX Disp/Corr (30, 30, 1,260, Normal)}  {r|' + fmtSigned(lastDisp) + '}  {o|' + lastCorr.toFixed(2) + '}  {g|' + lastMean.toFixed(2) + '}  {h|' + lastUpper.toFixed(2) + '}  {g|' + fmtSigned(lastLower) + '}  {r|' + lastSigma.toFixed(2) + '}',
  {a:INK, r:RED, o:ORANGE, g:MUTED, h:'#9598A1'}, LS);

// Price-axis labels
const yPrice = chart.convertToPixel({yAxisIndex:0}, lastPrice);
box(2415, yPrice + 18, 118, 28, '#2962FF', 90, {r:[0,4,4,0]});
txt(2430, yPrice + 32, fmtPrice(lastEma), {fill:WHITE, fontSize:23}, 100);
box(2414, 53, 130, yPrice + 18 + 14 - 53, '#FFFFFF', 110);
box(2421, 57, 114, 45, '#FFFFFF', 111, {r:8, stroke:'#E0E3EB', lw:2});
txt(2437, 80, 'USD', {fontSize:22}, 120);
const yVol = chart.convertToPixel({yAxisIndex:1}, lastVol);
box(2415, yVol - 15, 87, 30, '#22AB94', 90, {r:[0,4,4,0]});
txt(2430, yVol, lastVol.toFixed(2) + ' B', {fill:WHITE, fontSize:23}, 100);

// Disp-axis labels
const BH = 30;
function axisTag(v, fill, color, w, yCenter){
  const yc = yCenter !== undefined ? yCenter : chart.convertToPixel({yAxisIndex:3}, v);
  box(2419, yc - BH/2, w, BH, fill, 90, {r:[0,4,4,0]});
  txt(2433, yc, fmtSigned(v), {fill:color, fontSize:23}, 100);
}
const yCorr = chart.convertToPixel({yAxisIndex:3}, lastCorr);
axisTag(lastCorr, ORANGE, INK, 74);
axisTag(lastSigma, '#F23645', WHITE, 74, yCorr - BH);
axisTag(lastUpper, '#868993', WHITE, 74);
axisTag(lastMean, '#787B86', WHITE, 74);
axisTag(lastLower, '#787B86', WHITE, 86);
axisTag(lastDisp, '#F23645', WHITE, 86);

// Tables
function drawTable(cols, top, rowH, rows, fontSize, pad){
  rows.forEach(function(row, r){
    const y = top + r * rowH;
    for (let c = 0; c < cols.length - 1; c++){
      box(cols[c], y, cols[c+1] - cols[c], rowH, row.bg, 130, {stroke:BORDER, lw:2});
      const cell = row.cells[c];
      if (!cell || cell.t === '') continue;
      if (c === 0) txt(cols[c] + pad, y + rowH/2 + 1, cell.t, {fill:cell.c, fontSize:fontSize, fontFamily:TFONT}, 140);
      else txt(cols[c+1] - pad, y + rowH/2 + 1, cell.t, {fill:cell.c, fontSize:fontSize, fontFamily:TFONT, align:'right', textAlign:'right'}, 140);
    }
  });
}
const bigRows = [{bg:NAVY, cells:tableHeader.map(function(t){ return {t:t, c:WHITE}; })}];
sectors.forEach(function(s, i){
  const r = ret30[i], v = vsSpx[i], k = sectorCorr[i];
  const nameC = r > 20 ? GREEN : (r >= 0 ? TEAL : RED);
  bigRows.push({bg:GRAY, cells:[
    {t:s, c:nameC},
    {t:(r >= 0 ? '+' : '') + r.toFixed(1) + '%', c:nameC},
    {t:(v > 0 ? '+' : '') + String(v), c:v > 0 ? TEAL : RED},
    {t:String(k), c:k > 0.75 ? ORANGE : (k >= 0.5 ? WHITE : TEAL)}
  ]});
});
bigRows.push({bg:NAVY, cells:[{t:'S&P 500', c:WHITE},{t:'+' + spxRet30 + '%', c:TEAL},{t:'base', c:MUTED},{t:'\u2014', c:MUTED}]});
bigRows.push({bg:GRAY, cells:[{t:'Dispersion', c:WHITE},{t:dispersionNow.toFixed(1) + '%', c:RED},{t:'', c:WHITE},{t:String(avgCorrel), c:ORANGE}]});
drawTable([1955, 2099, 2210, 2312, 2397], 707, 47.2, bigRows, 23, 10);

const statRows = statLabels.map(function(l, i){
  return {bg:statRowBg[i], cells:[{t:l, c:statLabelColor[i]}, {t:statValues[i], c:statValueColor[i]}]};
});
drawTable([2149, 2262, 2395], 428, 35.4, statRows, 17, 8);

// TradingView logo mark (polygons + circle) and wordmark
(function(){
  const s = 1.46, ox = 22, oy = 1472;
  const P = function(pts){ return pts.map(function(p){ return [ox + p[0]*s, oy + p[1]*s]; }); };
  G.push({type:'polygon', z:100, silent:true, shape:{points:P([[0,4],[14,4],[14,22],[7,22],[7,11],[0,11]])}, style:{fill:INK}});
  G.push({type:'polygon', z:100, silent:true, shape:{points:P([[20,22],[27.5,4],[35.5,4],[28,22]])}, style:{fill:INK}});
  G.push({type:'circle', z:100, silent:true, shape:{cx:ox + 20*s, cy:oy + 8*s, r:4*s}, style:{fill:INK}});
})();
txt(87, 1491, 'TradingView', {fontSize:36, fontWeight:600, fontFamily:LOGOFONT});

chart.setOption({graphic:{elements:G}});
</script>
</body>
</html>
